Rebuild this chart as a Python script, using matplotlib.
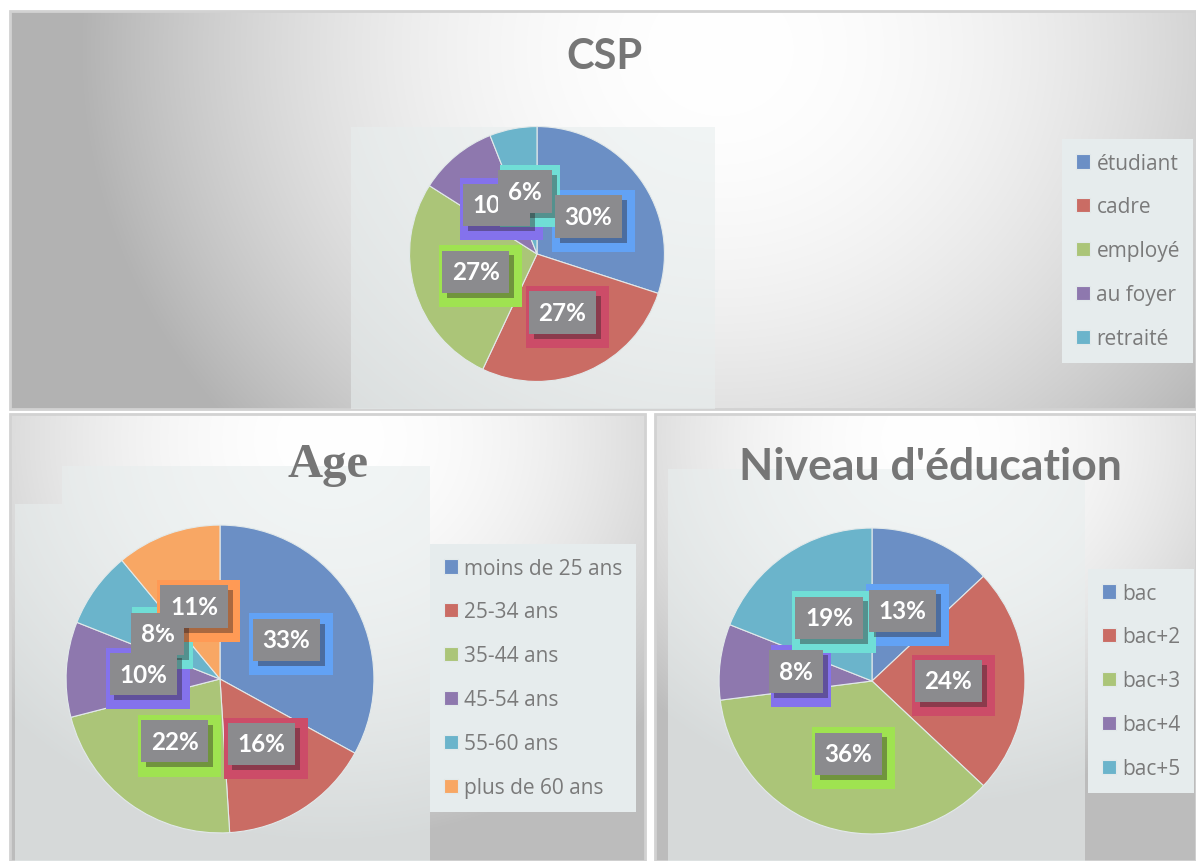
import matplotlib.pyplot as plt
import numpy as np
from matplotlib.patches import Rectangle

csp_labels = ['étudiant', 'cadre', 'employé', 'au foyer', 'retraité']
csp_values = [30, 27, 27, 10, 6]

age_labels = ['moins de 25 ans', '25-34 ans', '35-44 ans', '45-54 ans', '55-60 ans', 'plus de 60 ans']
age_values = [33, 16, 22, 10, 8, 11]

edu_labels = ['bac', 'bac+2', 'bac+3', 'bac+4', 'bac+5']
edu_values = [13, 24, 36, 8, 19]

slice_colors = ['#6b8fc5', '#ca6c64', '#abc578', '#8e78ae', '#6bb4cb', '#f8a764']
glow_colors = ['#62a2f5', '#cc4c68', '#9fe350', '#8472ec', '#70ded6', '#ff9a55']

W, H = 1196, 862
fig = plt.figure(figsize=(W / 100, H / 100), dpi=100)
fig.patch.set_facecolor('white')
bg = fig.add_axes([0, 0, 1, 1])
bg.set_xlim(0, W)
bg.set_ylim(H, 0)
bg.axis('off')


def panel(x0, y0, x1, y1, cx, cy, s, k):
    ys, xs = np.mgrid[y0:y1, x0:x1]
    d = np.clip(np.hypot(xs - cx, (ys - cy) * 1.1) / s, 0, 1)
    v = 1 - k * d ** 2
    img = np.dstack([v, v, v])
    bg.imshow(img, extent=(x0, x1, y1, y0), aspect='auto', zorder=0)
    bg.add_patch(Rectangle((x0, y0), x1 - x0, y1 - y0, fill=False,
                           ec='#d2d2d2', lw=2, zorder=1))


panel(10, 12, 1196, 410, 720, 50, 640, 0.3)
panel(10, 415, 645, 862, 330, 440, 440, 0.26)
panel(655, 415, 1196, 862, 930, 440, 400, 0.26)

# pale boxes behind the pies
for (x, y, w, h) in [(351, 128, 364, 282), (62, 467, 368, 395), (15, 505, 47, 357),
                     (668, 470, 417, 392)]:
    bg.add_patch(Rectangle((x, y), w, h, fc='#e8eeee', ec='none', alpha=0.6, zorder=1))

all_labels = []


def pie_chart(values, labels, cx, cy, r, legend_xy):
    ax = fig.add_axes([(cx - r) / W, 1 - (cy + r) / H, 2 * r / W, 2 * r / H])
    ax.set_zorder(2)
    cols = slice_colors[:len(values)]
    wedges, _, autotexts = ax.pie(values, colors=cols, startangle=90, counterclock=False,
                                  autopct='%.0f%%', pctdistance=0.5,
                                  wedgeprops=dict(ec='#e2e9ea', lw=0.8),
                                  textprops=dict(color='white', fontsize=17.5,
                                                 fontweight='bold', family='Lato'))
    px = 1.0 / r  # data units per pixel
    for t, gc in zip(autotexts, glow_colors):
        t.set_bbox(dict(boxstyle='square,pad=0.4', fc='#8b8b8e', ec='none'))
        t.set_zorder(5)
        x, y = t.get_position()
        w = 62 if len(t.get_text()) < 3 else 85
        ax.add_patch(Rectangle((x - (w / 2 - 5) * px, y - 36 * px), w * px, 63 * px,
                               fc=gc, ec='none', zorder=4))
        all_labels.append((ax, t, px))
    ax.set_xlim(-1.02, 1.02)
    ax.set_ylim(-1.02, 1.02)
    leg = fig.legend(wedges, labels, loc='upper left',
                     bbox_to_anchor=(legend_xy[0] / W, 1 - legend_xy[1] / H),
                     frameon=True, fancybox=False, facecolor='#e6eced', edgecolor='none',
                     framealpha=1, labelspacing=1.1, handlelength=0.7,
                     handleheight=0.7, handletextpad=0.3, borderpad=0.65,
                     borderaxespad=0, prop=dict(family='Open Sans', size=15))
    for txt in leg.get_texts():
        txt.set_color('#7a7a7a')
    return ax


pie_chart(csp_values, csp_labels, 537, 255, 130, (1062, 140))
pie_chart(age_values, age_labels, 220, 680, 157, (430, 545))
pie_chart(edu_values, edu_labels, 872, 682, 156, (1088, 570))

# drop shadow under the grey label boxes (offset down-right)
fig.canvas.draw()
for ax, t, px in all_labels:
    bb = t.get_bbox_patch().get_window_extent().transformed(ax.transData.inverted())
    ax.add_patch(Rectangle((bb.x0 + 5 * px, bb.y0 - 5 * px), bb.width, bb.height,
                           fc='#2a1f22', ec='none', alpha=0.4, zorder=4.5))

bg.text(604, 57, 'CSP', ha='center', va='center', fontsize=30, fontweight='bold',
        family='Lato', color='#767676', zorder=3)
bg.text(328, 465, 'Age', ha='center', va='center', fontsize=35, fontweight='bold',
        family='Liberation Serif', color='#767676', zorder=3)
bg.text(930, 467, "Niveau d'éducation", ha='center', va='center', fontsize=32,
        fontweight='bold', family='Lato', color='#767676', zorder=3)

fig.savefig('out.png', dpi=100)
